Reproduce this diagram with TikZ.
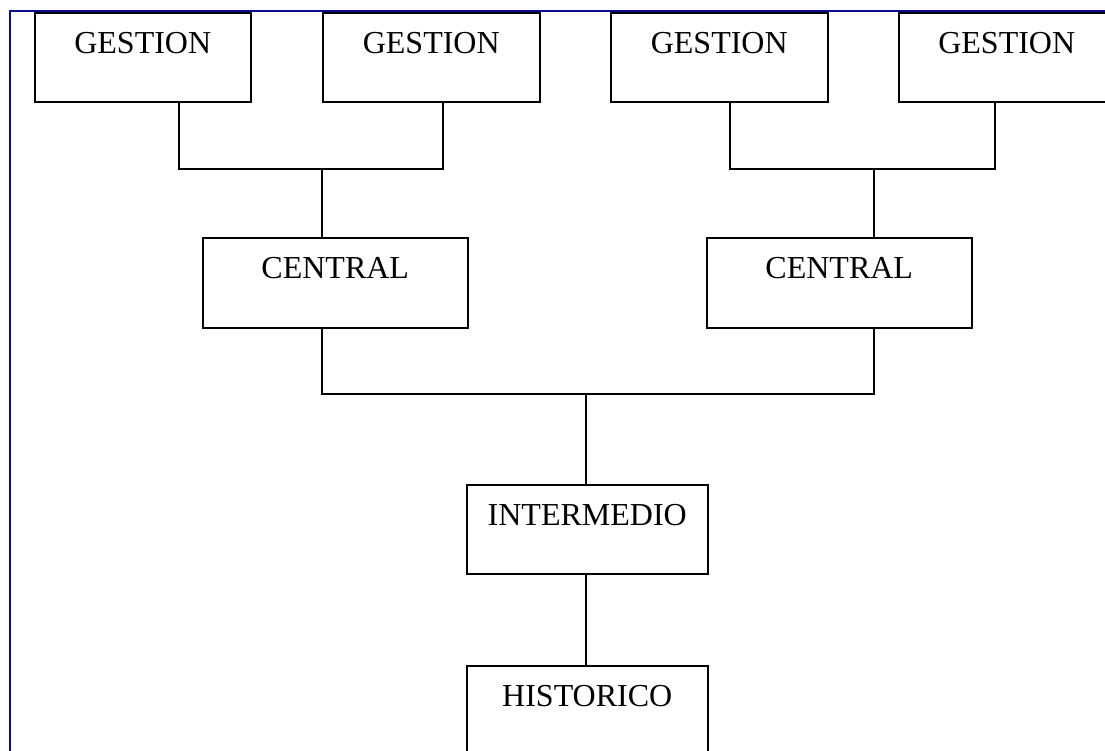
\documentclass[tikz,border=0pt]{standalone}
\usepackage{fontspec}
\setmainfont{Liberation Serif}
\usetikzlibrary{calc}
\definecolor{framenavy}{RGB}{10,10,140}
\begin{document}
\begin{tikzpicture}[x=1pt,y=-1pt,
  box/.style={draw=black,line width=1.5pt,rectangle,inner sep=0pt,anchor=north west},
  gbox/.style={box,minimum width=216pt,minimum height=89pt},
  cbox/.style={box,minimum width=265pt,minimum height=90pt},
  lbox/.style={box,minimum width=241pt,minimum height=89pt},
  lbl/.style={anchor=base,font=\fontsize{32pt}{36pt}\selectfont,inner sep=0pt},
  wire/.style={draw=black,line width=1.5pt}]
\useasboundingbox (0,0) rectangle (1105,750);
\clip (0,0) rectangle (1105,750);
\fill[white] (0,0) rectangle (1105,750);

% outer frame
\draw[framenavy,line width=2pt] (9.5,760) -- (9.5,10.5) -- (1120,10.5);

% boxes
\node[gbox] (g1) at (34,12) {};
\node[gbox,minimum width=217pt] (g2) at (322,12) {};
\node[gbox,minimum width=217pt] (g3) at (610,12) {};
\node[gbox] (g4) at (898,12) {};
\node[cbox] (c1) at (202,237) {};
\node[cbox] (c2) at (706,237) {};
\node[lbox] (im) at (466,484) {};
\node[lbox,minimum height=100pt] (hi) at (466,665) {};

% labels
\foreach \b/\t in {g1/GESTION,g2/GESTION,g3/GESTION,g4/GESTION,
                   c1/CENTRAL,c2/CENTRAL,im/INTERMEDIO,hi/HISTORICO}
  \node[lbl] (\b-t) at ([yshift=-41pt]\b.north) {\t};

% junction points of the tree
\coordinate (jl) at (322,169);
\coordinate (jr) at (874,169);
\coordinate (jm) at (586,394);

% GESTION pairs joined to each CENTRAL
\draw[wire] ($(g1.south west)+(145,0)$) |- (jl) -| ($(g2.south west)+(121,0)$);
\draw[wire] (jl) -- (jl |- c1.north);
\draw[wire] ($(g3.south west)+(120,0)$) |- (jr) -| ($(g4.south west)+(97,0)$);
\draw[wire] (jr) -- (jr |- c2.north);

% both CENTRAL boxes joined to INTERMEDIO
\draw[wire] (jl |- c1.south) |- (jm) -| (jr |- c2.south);
\draw[wire] (jm) -- (jm |- im.north);

% INTERMEDIO to HISTORICO
\draw[wire] (jm |- im.south) -- (jm |- hi.north);
\end{tikzpicture}
\end{document}
